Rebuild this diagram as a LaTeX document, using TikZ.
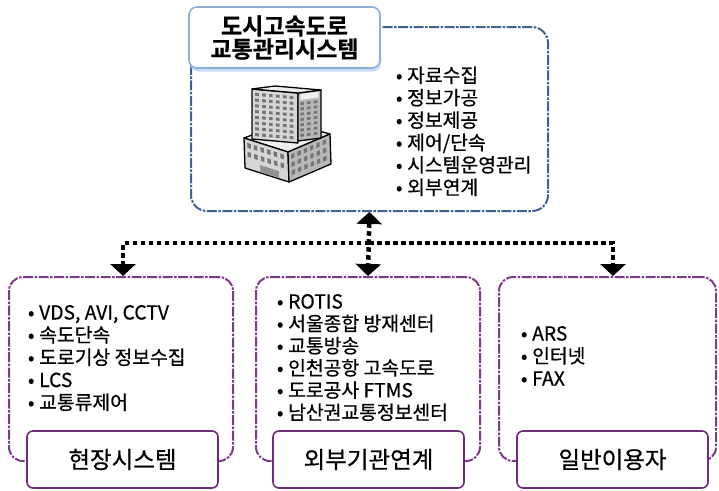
\documentclass[tikz,border=0pt]{standalone}
\usepackage{fontspec}
\setmainfont{Noto Sans CJK KR}[BoldFont={Noto Sans CJK KR Bold}, RawFeature={embolden=0.6}]
\usetikzlibrary{arrows.meta,shadows}

\definecolor{sysblue}{HTML}{3E6298}
\definecolor{titleline}{HTML}{8DB0DA}
\definecolor{titleshade}{HTML}{C9DCF0}
\definecolor{grpviolet}{HTML}{7E3A8A}
\definecolor{labviolet}{HTML}{6F2A7A}
\definecolor{bldleft}{HTML}{D6D6D6}
\definecolor{bldright}{HTML}{B8B8B8}
\definecolor{bldtop}{HTML}{EFEFEF}
\definecolor{bldwin}{HTML}{767676}

% bullet mark in front of each list entry
\newcommand\itemdot{\rlap{\makebox[8pt][c]{•}}\hspace{12pt}}

\tikzset{
  sysframe/.style={draw=sysblue, line width=2pt, rounded corners=16pt,
    dash pattern=on 10pt off 1.5pt on 2.5pt off 1.5pt,
    minimum width=357pt, minimum height=184pt, inner sep=0pt},
  grpframe/.style={draw=grpviolet, line width=2pt, rounded corners=14pt,
    dash pattern=on 10pt off 1.5pt on 2.5pt off 1.5pt,
    minimum height=184pt, inner sep=0pt},
  titlebox/.style={draw=titleline, fill=white, line width=1.6pt, rounded corners=8pt,
    minimum width=191pt, minimum height=61pt, align=center, inner sep=0pt,
    drop shadow={shadow xshift=1pt, shadow yshift=-3.5pt, fill=titleshade, opacity=1},
    font=\fontsize{23}{23}\selectfont\bfseries},
  labelbox/.style={draw=labviolet, fill=white, line width=1.6pt, rounded corners=6pt,
    minimum width=191pt, minimum height=57pt, inner sep=0pt,
    font=\fontsize{23.5}{26}\selectfont},
  entry/.style={anchor=base west, inner sep=0pt, font=\fontsize{19.3}{22}\selectfont},
  link/.style={draw=black, line width=4.5pt, dash pattern=on 4.5pt off 3.5pt},
  bld/.style={draw=black, line width=1.3pt, line join=round},
  win/.style={fill=bldwin},
}

\begin{document}
\begin{tikzpicture}[x=1pt, y=-1pt]
\useasboundingbox (0,0) rectangle (719,490);

% ---------- central system ----------
\node[sysframe] (sys) at (369.5,119) {};
\node[titlebox] (title) at (284.5,37.5) {도시고속도로\\교통관리시스템};

\foreach \txt [count=\k] in {자료수집,정보가공,정보제공,제어/단속,시스템운영관리,외부연계}
  \node[entry] (s\k) at (395,{82.5+22.4*(\k-1)}) {\itemdot\txt};

% ---------- building icon ----------
% base block: top face
\filldraw[bld, fill=bldtop] (244,138) -- (288,152) -- (330,134) -- (287,122) -- cycle;
% base block: left face
\begin{scope}[shift={(244,138)}, x={(44pt,-14pt)}, y={(1pt,-30pt)}]
  \filldraw[bld, fill=bldleft] (0,0) -- (1,0) -- (1,1) -- (0,1) -- cycle;
  \foreach \i in {0,...,5}
    \foreach \j in {0,1}
      \fill[win] ({0.07+\i*0.15},{0.13+\j*0.3}) -- ++(0.08,0) -- ++(0,0.16) -- ++(-0.08,0) -- cycle;
  \fill[bldwin!80] (0.35,0.74) -- (0.78,0.74) -- (0.78,0.96) -- (0.35,0.96) -- cycle;
\end{scope}
% base block: right face
\begin{scope}[shift={(288,152)}, x={(42pt,18pt)}, y={(1pt,-30pt)}]
  \filldraw[bld, fill=bldright] (0,0) -- (1,0) -- (1,1) -- (0,1) -- cycle;
  \foreach \i in {0,...,5}
    \foreach \j in {0,1,2}
      \fill[win] ({0.07+\i*0.15},{0.12+\j*0.27}) -- ++(0.08,0) -- ++(0,0.15) -- ++(-0.08,0) -- cycle;
\end{scope}
% tower: left face
\begin{scope}[shift={(252,89)}, x={(46pt,-4pt)}, y={(0pt,-50pt)}]
  \filldraw[bld, fill=bldleft] (0,0) -- (1,0) -- (1,1) -- (0,1) -- cycle;
  \foreach \i in {0,...,5}
    \foreach \j in {0,...,7}
      \fill[win] ({0.07+\i*0.15},{0.07+\j*0.115}) -- ++(0.08,0) -- ++(0,0.06) -- ++(-0.08,0) -- cycle;
\end{scope}
% tower: right face
\begin{scope}[shift={(298,93)}, x={(23pt,3pt)}, y={(0pt,-48pt)}]
  \filldraw[bld, fill=bldright] (0,0) -- (1,0) -- (1,1) -- (0,1) -- cycle;
  \fill[bldtop] (0.1,0.03) -- (0.9,0.03) -- (0.9,0.15) -- (0.1,0.15) -- cycle;
  \foreach \i in {0,1,2}
    \foreach \j in {0,...,6}
      \fill[win] ({0.1+\i*0.29},{0.2+\j*0.11}) -- ++(0.16,0) -- ++(0,0.06) -- ++(-0.16,0) -- cycle;
\end{scope}
% tower: roof
\filldraw[bld, fill=bldtop] (252,89) -- (298,93) -- (321,90) -- (275,86) -- cycle;

% ---------- lower groups ----------
\node[grpframe, minimum width=224pt] (field) at (121,369) {};
\node[grpframe, minimum width=224pt] (ext)   at (368,369) {};
\node[grpframe, minimum width=217pt] (user)  at (607.5,369) {};

\node[labelbox] (lfield) at (122.5,459.5) {현장시스템};
\node[labelbox] (lext)   at (368.5,459.5) {외부기관연계};
\node[labelbox] (luser)  at (612.5,459.5) {일반이용자};

\foreach \txt [count=\k] in {{VDS, AVI, CCTV},속도단속,도로기상 정보수집,LCS,교통류제어}
  \node[entry] (f\k) at (27,{319.5+22.5*(\k-1)}) {\itemdot\txt};

\foreach \txt [count=\k] in {ROTIS,서울종합 방재센터,교통방송,인천공항 고속도로,도로공사 FTMS,남산권교통정보센터}
  \node[entry] (e\k) at (276,{308.5+22.2*(\k-1)}) {\itemdot\txt};

\foreach \txt [count=\k] in {ARS,인터넷,FAX}
  \node[entry] (u\k) at (520,{340.5+22.5*(\k-1)}) {\itemdot\txt};

% ---------- connectors ----------
\coordinate (bus) at (369,243);
\draw[link, {Triangle[width=25pt,length=12pt]}-{Triangle[width=25pt,length=12pt]}]
  (sys.south) -- (ext.north);
\draw[link, -{Triangle[width=25pt,length=12pt]}] (bus) -| ([xshift=2pt]field.north);
\draw[link, -{Triangle[width=25pt,length=12pt]}] (bus) -| ([xshift=5.5pt]user.north);

\end{tikzpicture}
\end{document}
